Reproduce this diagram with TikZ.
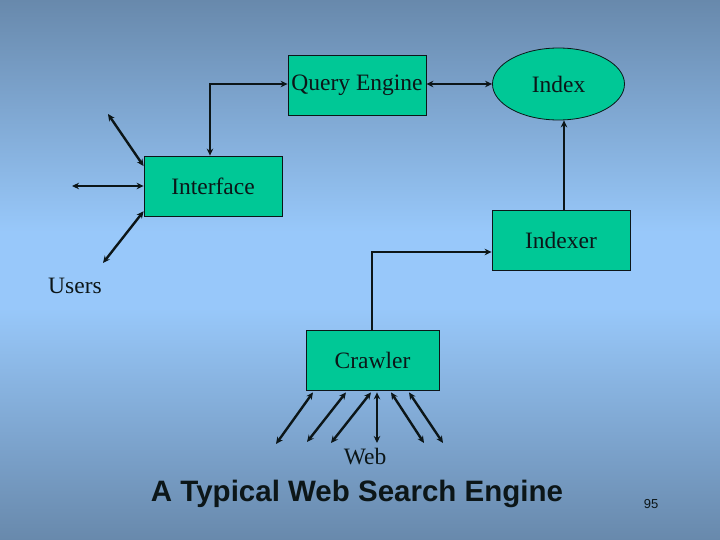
\documentclass[tikz,border=0pt]{standalone}
\usepackage{fontspec}
\setmainfont{Liberation Serif}
\newfontfamily\arialfont{Liberation Sans}
\usetikzlibrary{arrows.meta,shapes.geometric}
\definecolor{bgtop}{RGB}{104,137,172}
\definecolor{bgmid}{RGB}{152,200,250}
\definecolor{bgbot}{RGB}{104,137,172}
\definecolor{boxfill}{RGB}{0,200,150}
\definecolor{ink}{RGB}{12,22,24}
\pgfdeclareverticalshading{bgshade}{100bp}{color(0bp)=(bgbot); color(25bp)=(bgbot); color(46.5bp)=(bgmid); color(53.5bp)=(bgmid); color(75bp)=(bgtop); color(100bp)=(bgtop)}
\begin{document}
\begin{tikzpicture}[x=1pt,y=-1pt,
  >={Stealth[length=7pt,width=6.5pt]},
  box/.style={draw=ink,line width=0.8pt,fill=boxfill,minimum width=138pt,minimum height=60pt,inner sep=0pt,
    font=\fontsize{23.5}{26}\selectfont,text=ink},
  oval/.style={ellipse,draw=ink,line width=0.8pt,fill=boxfill,minimum width=132pt,minimum height=72pt,inner sep=0pt,
    font=\fontsize{23.5}{26}\selectfont,text=ink},
  lbl/.style={font=\fontsize{23.5}{26}\selectfont,text=ink,inner sep=0pt},
  conn/.style={draw=ink,line width=2.4pt}]
\shade[shading=bgshade] (0,0) rectangle (720,540);
\useasboundingbox (0,0) rectangle (720,540);

\node[box] (qe) at (357,85) {Query Engine};
\node[oval] (index) at (558.5,84) {Index};
\node[box] (iface) at (213,186) {Interface};
\node[box] (indexer) at (561,240) {Indexer};
\node[box,minimum width=133pt] (crawler) at (372.5,360) {Crawler};

\node[lbl] (users) at (75,286) {Users};
\node[lbl] (web) at (365,457) {Web};
\node[font=\arialfont\bfseries\fontsize{29.5}{32}\selectfont,text=ink,inner sep=0pt] (title) at (357,494) {A Typical Web Search Engine};
\node[font=\arialfont\fontsize{13}{15}\selectfont,text=ink,inner sep=0pt] (page) at (651,504) {95};

% user free ends
\coordinate (u1) at (108,114);
\coordinate (u2) at (72,186);
\coordinate (u3) at (103,263);
% web free ends
\coordinate (w1) at (276,444);
\coordinate (w2) at (307,442);
\coordinate (w3) at (331,443);
\coordinate (w4) at (377,443);
\coordinate (w5) at (424,443);
\coordinate (w6) at (443,443);

% main connectors
\draw[conn,<->] ([xshift=-3pt]iface.north) |- ([yshift=1pt]qe.west);
\draw[conn,<->] ([yshift=1pt]qe.east) -- (index.west);
\draw[conn,->] ([xshift=3pt]indexer.north) -- ([xshift=5.5pt]index.south);
\draw[conn,->] ([xshift=-0.5pt]crawler.north) |- ([yshift=-12pt]indexer.west);

% users
\draw[conn,<->] (u1) -- (iface.164.6);
\draw[conn,<->] (u2) -- (iface.west);
\draw[conn,<->] (u3) -- (iface.200);

% web
\draw[conn,<->] ([xshift=-59.5pt,yshift=-2pt]crawler.south) -- (w1);
\draw[conn,<->] ([xshift=-26.5pt,yshift=-2pt]crawler.south) -- (w2);
\draw[conn,<->] ([xshift=-1.5pt,yshift=-2pt]crawler.south) -- (w3);
\draw[conn,<->] ([xshift=4.5pt,yshift=-2pt]crawler.south) -- (w4);
\draw[conn,<->] ([xshift=18.5pt,yshift=-2pt]crawler.south) -- (w5);
\draw[conn,<->] ([xshift=36.5pt,yshift=-2pt]crawler.south) -- (w6);
\end{tikzpicture}
\end{document}
